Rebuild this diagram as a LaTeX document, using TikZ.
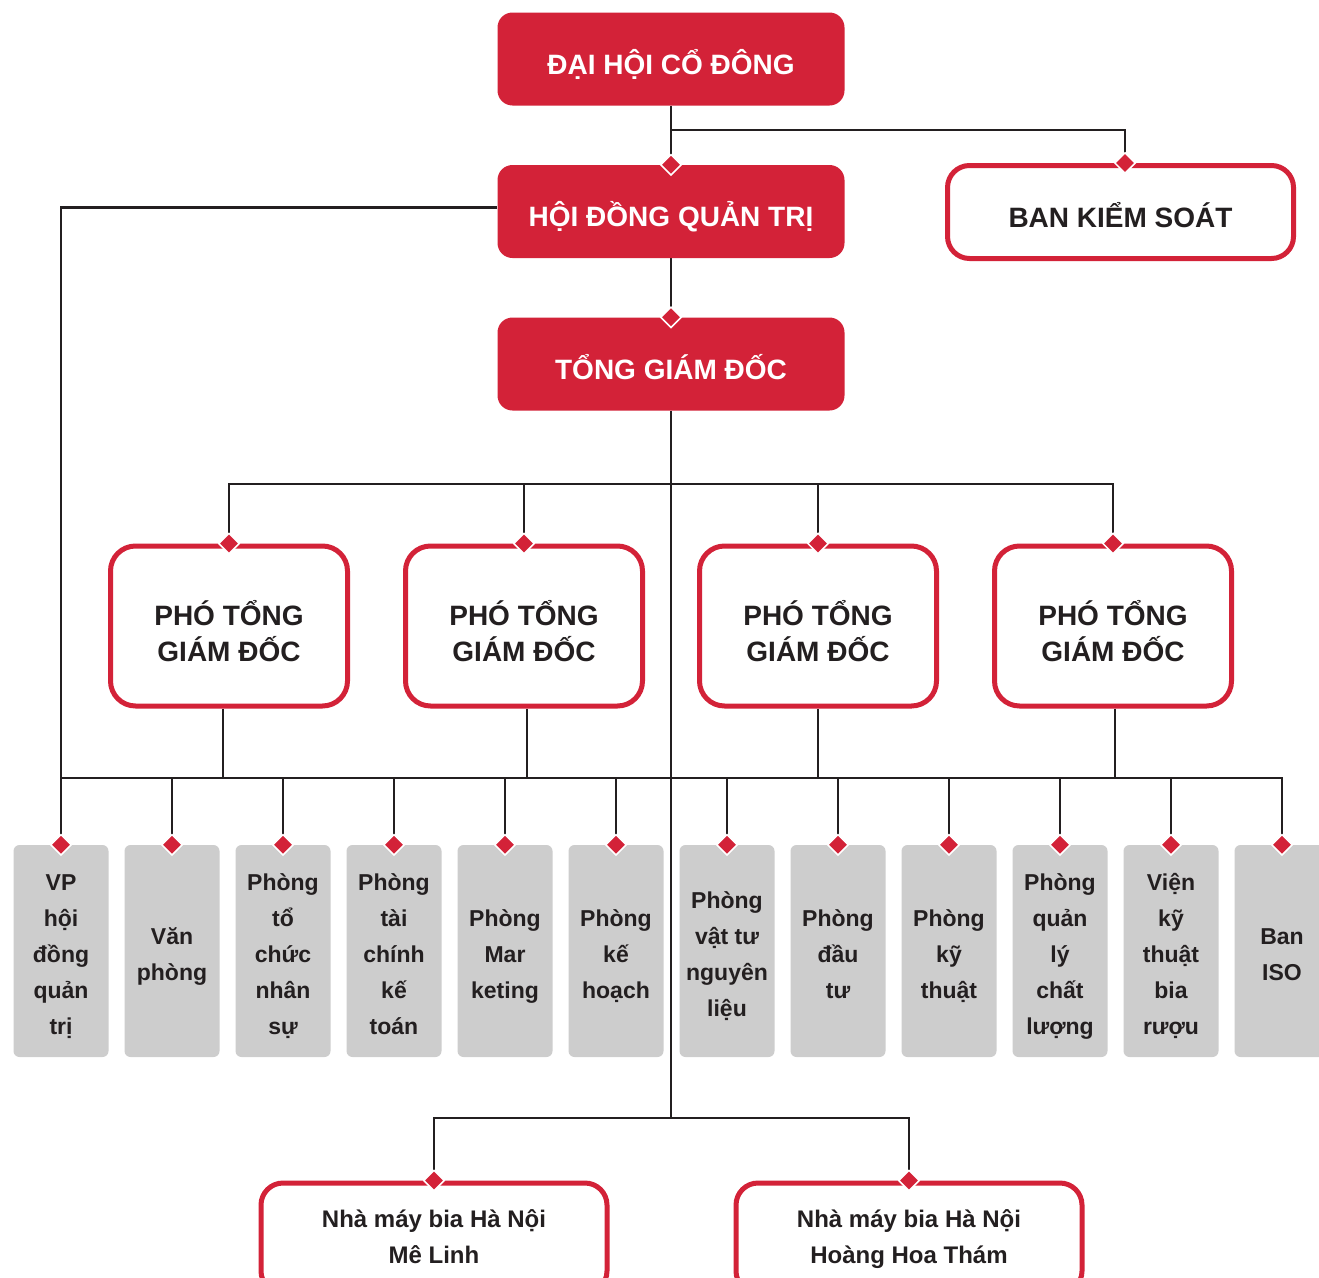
\documentclass[tikz,border=0pt]{standalone}
\usepackage{fontspec}
\setmainfont{Liberation Sans}
\usetikzlibrary{shapes.geometric,backgrounds}
\definecolor{ored}{HTML}{D32238}
\definecolor{ogrey}{HTML}{CDCDCD}
\definecolor{odark}{HTML}{231F20}
\newcommand\dtop{\rule{0pt}{29pt}}
\newcommand\dbot{\rule[-7pt]{0pt}{7pt}}
\newcommand\ptop{\rule{0pt}{36pt}}
\newcommand\pbot{\rule[-2pt]{0pt}{2pt}}
\newcommand\ntop{\rule{0pt}{24pt}}
\newcommand\nbot{\rule[-10pt]{0pt}{10pt}}
\tikzset{
  redbox/.style={rounded corners=15pt, fill=ored, text=white, minimum width=347pt, minimum height=93pt, inner sep=0pt, text height=32pt, text depth=2pt, font=\fontsize{28}{36}\selectfont\bfseries},
  outbox/.style={rounded corners=22pt, draw=ored, line width=5pt, fill=white, text=odark, inner sep=0pt, align=center},
  deptbox/.style={rounded corners=6pt, fill=ogrey, text=odark, minimum width=95pt, minimum height=212pt, inner sep=0pt, align=center, font=\fontsize{23}{36}\selectfont\bfseries},
  dmd/.style={diamond, fill=ored, draw=white, line width=1.5pt, minimum size=21pt, inner sep=0pt},
  conn/.style={draw=odark, line width=2.4pt}
}
\begin{document}
\begin{tikzpicture}[x=1pt,y=-1pt]
\useasboundingbox (0,0) rectangle (1319,1277);
% top boxes
\node[redbox] (dhcd) at (671,59) {ĐẠI HỘI CỔ ĐÔNG};
\node[redbox] (hdqt) at (671,211.5) {HỘI ĐỒNG QUẢN TRỊ};
\node[redbox] (tgd) at (671,364) {TỔNG GIÁM ĐỐC};
\node[outbox, minimum width=346pt, minimum height=93pt, text height=32pt, text depth=2pt, font=\fontsize{28}{36}\selectfont\bfseries] (bks) at (1120.5,212) {BAN KIỂM SOÁT};
\node[dmd] (dhdqt) at (hdqt.north) {};
\node[dmd] (dtgd) at (tgd.north) {};
\node[dmd] (dbks) at ([xshift=4.5pt]bks.north) {};
% deputy directors
\foreach \i/\x in {1/229,2/524,3/818,4/1113}{
  \node[outbox, rounded corners=25pt, minimum width=237pt, minimum height=160pt, font=\fontsize{28}{36}\selectfont\bfseries] (p\i) at (\x,626) {\ptop PHÓ TỔNG\\GIÁM ĐỐC\pbot};
  \node[dmd] (dp\i) at (p\i.north) {};
}
% departments
\node[deptbox] (k1) at (61,951) {\dtop VP\\hội\\đồng\\quản\\trị\dbot};
\node[deptbox] (k2) at (172,951) {\dtop Văn\\phòng\dbot};
\node[deptbox] (k3) at (283,951) {\dtop Phòng\\tổ\\chức\\nhân\\sự\dbot};
\node[deptbox] (k4) at (394,951) {\dtop Phòng\\tài\\chính\\kế\\toán\dbot};
\node[deptbox] (k5) at (505,951) {\dtop Phòng\\Mar\\keting\dbot};
\node[deptbox] (k6) at (616,951) {\dtop Phòng\\kế\\hoạch\dbot};
\node[deptbox] (k7) at (727,951) {\dtop Phòng\\vật tư\\nguyên\\liệu\dbot};
\node[deptbox] (k8) at (838,951) {\dtop Phòng\\đầu\\tư\dbot};
\node[deptbox] (k9) at (949,951) {\dtop Phòng\\kỹ\\thuật\dbot};
\node[deptbox] (k10) at (1060,951) {\dtop Phòng\\quản\\lý\\chất\\lượng\dbot};
\node[deptbox] (k11) at (1171,951) {\dtop Viện\\kỹ\\thuật\\bia\\rượu\dbot};
\node[deptbox] (k12) at (1282,951) {\dtop Ban\\ISO\dbot};
\foreach \i in {1,...,12}{ \node[dmd] (dk\i) at (k\i.north) {}; }
% factories
\node[outbox, minimum width=346pt, minimum height=110pt, font=\fontsize{24}{36}\selectfont\bfseries] (n1) at (434,1238) {\ntop Nhà máy bia Hà Nội\\Mê Linh\nbot};
\node[outbox, minimum width=346pt, minimum height=110pt, font=\fontsize{24}{36}\selectfont\bfseries] (n2) at (909,1238) {\ntop Nhà máy bia Hà Nội\\Hoàng Hoa Thám\nbot};
\node[dmd] (dn1) at (n1.north) {};
\node[dmd] (dn2) at (n2.north) {};
% junction coordinates
\coordinate (j0) at (671,130);
\coordinate (h1) at (671,484);
\coordinate (h2) at (671,778);
\coordinate (hb) at (671,1118);
\begin{scope}[on background layer]
  \draw[conn] (dhcd.south) -- (dhdqt.center);
  \draw[conn] (j0) -| (dbks.center);
  \draw[conn] (hdqt.south) -- (dtgd.center);
  \draw[conn] ([yshift=4pt]hdqt.west) -| (dk1.center);
  \draw[conn] (tgd.south) -- (hb);
  \draw[conn] (dp1.center) |- (h1) -| (dp4.center);
  \draw[conn] (dp2.center) |- (h1);
  \draw[conn] (dp3.center) |- (h1);
  \draw[conn] (dk1.center) |- (h2) -| (dk12.center);
  \foreach \i in {2,...,11}{ \draw[conn] (dk\i.center) |- (h2); }
  \draw[conn] ([xshift=-6pt]p1.south) |- (h2);
  \draw[conn] ([xshift=3pt]p2.south) |- (h2);
  \draw[conn] (p3.south) |- (h2);
  \draw[conn] ([xshift=2pt]p4.south) |- (h2);
  \draw[conn] (dn1.center) |- (hb) -| (dn2.center);
\end{scope}
\end{tikzpicture}
\end{document}
